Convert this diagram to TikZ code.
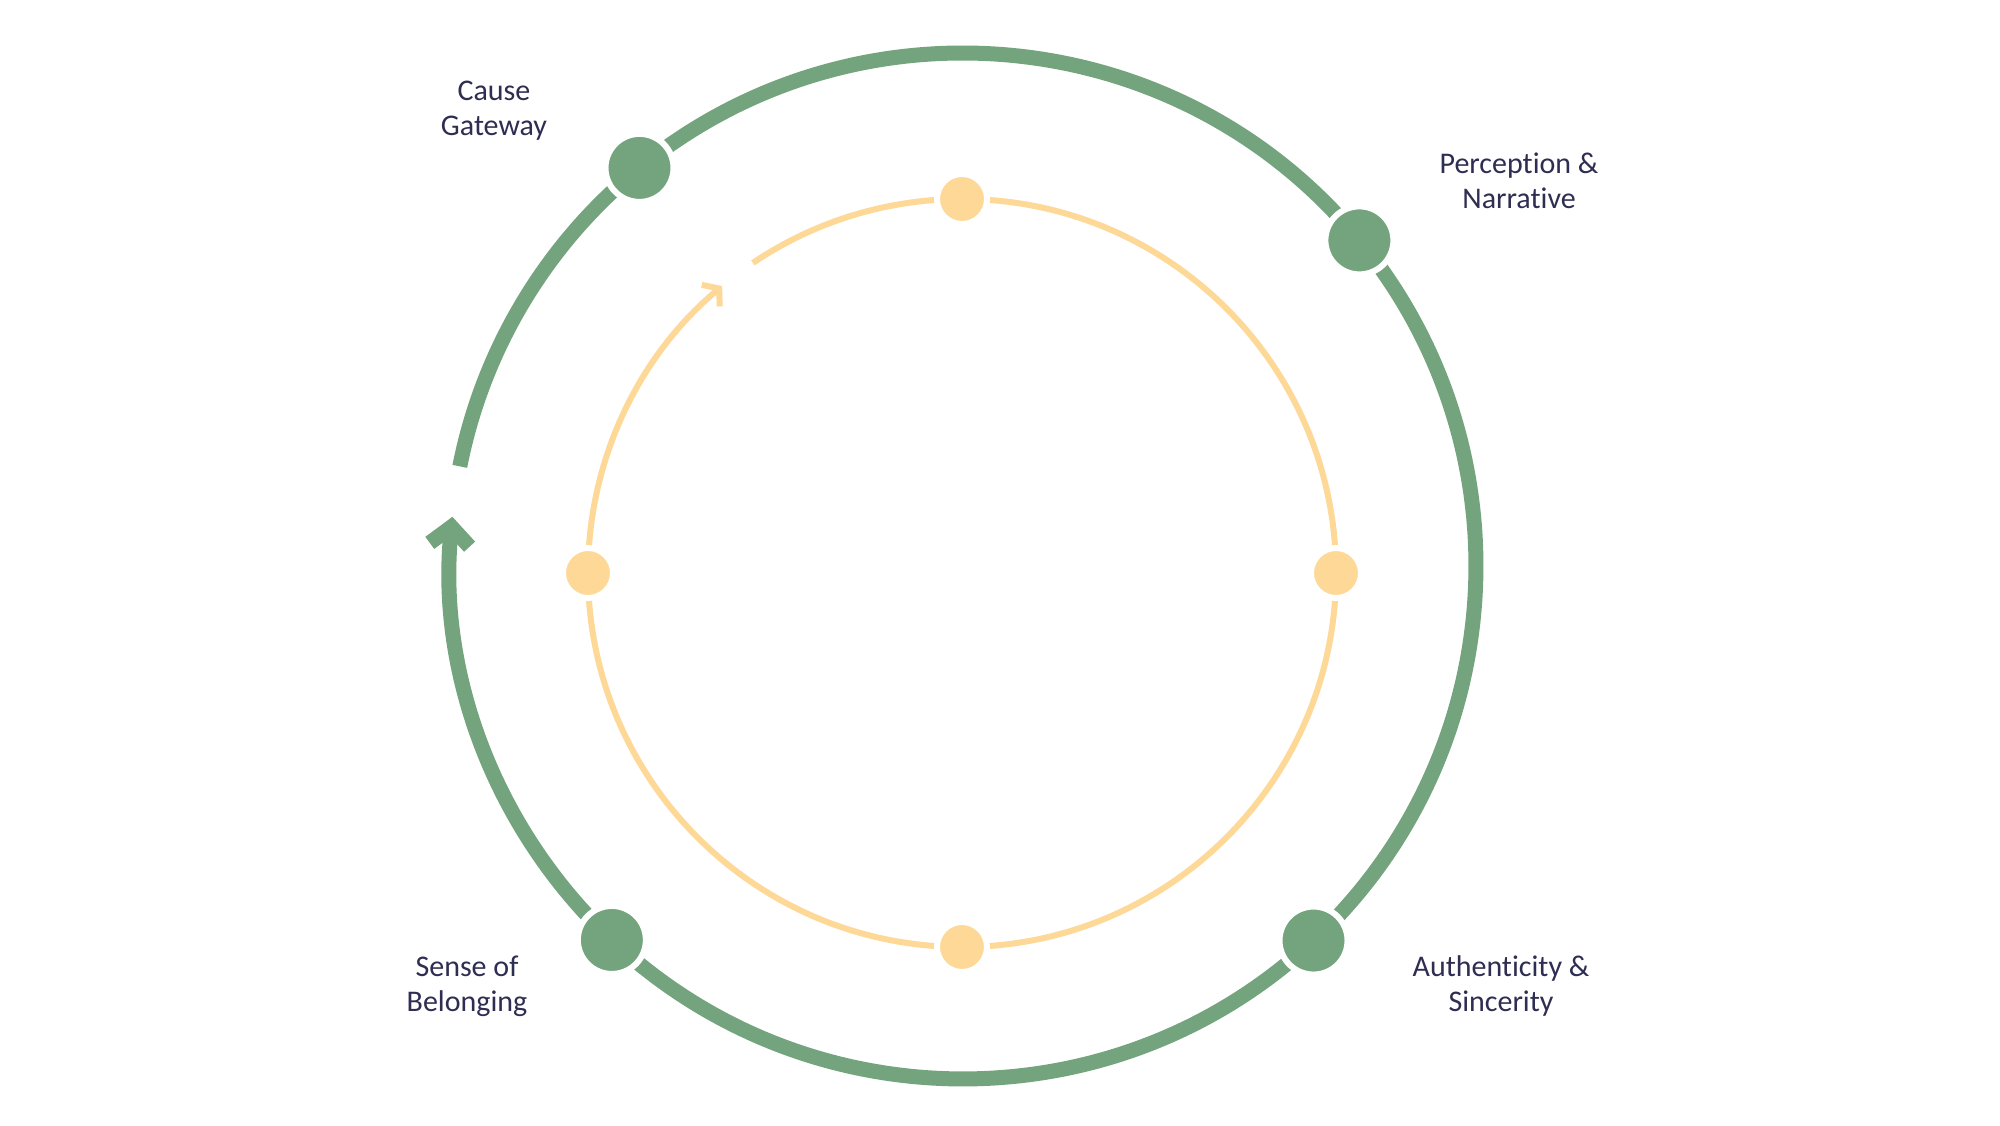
\documentclass[tikz,border=0pt]{standalone}
\usepackage{fontspec}
\setmainfont{Carlito}[RawFeature={-liga;-clig;-calt;-dlig}]
\usetikzlibrary{arrows.meta,backgrounds}
\definecolor{sage}{HTML}{74A47E}
\definecolor{sand}{HTML}{FED896}
\definecolor{ink}{HTML}{2E2D52}
\tikzset{
 gdot/.style={circle,fill=sage,draw=white,line width=6pt,minimum size=68pt,inner sep=0pt},
 ydot/.style={circle,fill=sand,draw=white,line width=6pt,minimum size=50pt,inner sep=0pt},
 garc/.style={draw=sage,line width=15pt},
 yarc/.style={draw=sand,line width=6pt},
 lbl/.style={text=ink,align=center,font=\fontsize{30}{35}\selectfont,inner sep=0pt},
}
\newcommand{\twoline}[2]{\rule{0pt}{22pt}#1\\#2\rule[-8pt]{0pt}{8pt}}
\begin{document}
\begin{tikzpicture}[x=1pt,y=1pt]
\useasboundingbox (0,0) rectangle (2000,1125);
\coordinate (O) at (963,559);
\coordinate (I) at (962,552);
% outer dots
\node[gdot] (cause) at ([shift={(129.1:513)}]O) {};
\node[gdot] (perc) at ([shift={(39.4:513)}]O) {};
\node[gdot] (auth) at ([shift={(-46.9:513)}]O) {};
\node[gdot] (sense) at ([shift={(-133.2:513)}]O) {};
\coordinate (ogap) at ([shift={(168.8:513)}]O);
% inner dots
\node[ydot] (ytop) at ([shift={(90:374)}]I) {};
\node[ydot] (yright) at ([shift={(0:374)}]I) {};
\node[ydot] (ybottom) at ([shift={(-90:374)}]I) {};
\node[ydot] (yleft) at ([shift={(180:374)}]I) {};
\coordinate (ygap) at ([shift={(124:374)}]I);
% labels
\node[lbl] (lcause) at (494,1013.8) {\twoline{Cause}{Gateway}};
\node[lbl] (lperc) at (1519,940.5) {\twoline{Perception \&}{Narrative}};
\node[lbl] (lsense) at (467,138.5) {\twoline{Sense of}{Belonging}};
\node[lbl] (lauth) at (1501,138.5) {\twoline{Authenticity \&}{Sincerity}};
\begin{pgfonlayer}{background}
\fill[white] (0,0) rectangle (2000,1125);
\draw[garc] (ogap) arc[start angle=168.8,end angle=129.1,radius=513];
\draw[garc] (cause.center) arc[start angle=129.1,end angle=39.4,radius=513];
\draw[garc] (perc.center) arc[start angle=39.4,end angle=-46.9,radius=513];
\draw[garc] (auth.center) arc[start angle=-46.9,end angle=-133.2,radius=513];
\draw[garc,-{Straight Barb[sharp,length=18pt,width=40pt]}] (sense.center) arc[start angle=-133.2,end angle=-185.5,radius=513];
\draw[yarc] (ygap) arc[start angle=124,end angle=90,radius=374];
\draw[yarc] (ytop.center) arc[start angle=90,end angle=0,radius=374];
\draw[yarc] (yright.center) arc[start angle=0,end angle=-90,radius=374];
\draw[yarc] (ybottom.center) arc[start angle=-90,end angle=-180,radius=374];
\draw[yarc,-{Straight Barb[sharp,length=11pt,width=28pt]}] (yleft.center) arc[start angle=180,end angle=129.9,radius=374];
\end{pgfonlayer}
\end{tikzpicture}
\end{document}
